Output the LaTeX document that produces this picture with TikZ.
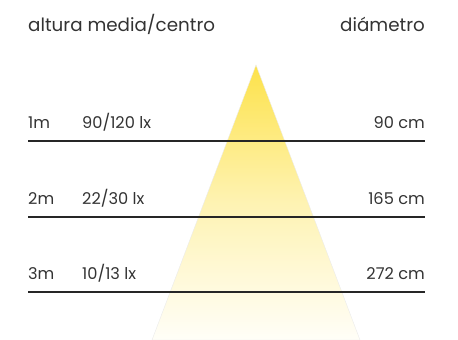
\documentclass[tikz,border=0pt]{standalone}
\usepackage{fontspec}
\setmainfont{Poppins}
\definecolor{txt}{HTML}{333333}
\definecolor{beamtop}{HTML}{FDE24A}
\definecolor{beambot}{HTML}{FFFEF8}
\begin{document}
\begin{tikzpicture}[x=1pt,y=-1pt,
  lbl/.style={inner sep=0pt,text=txt,font=\fontsize{16.2}{16.2}\selectfont,anchor=base west},
  lblr/.style={lbl,anchor=base east},
  hdr/.style={inner sep=0pt,text=txt,font=\fontsize{18.3}{18.3}\selectfont,anchor=base west},
  rule/.style={draw=black!85,line width=1.2pt}]
\useasboundingbox (0,0) rectangle (458,340);
% beam
\coordinate (apex) at (256,65);
\coordinate (bl) at (152,340);
\coordinate (br) at (360,340);
\shade[top color=beamtop,bottom color=beambot,middle color=beamtop!40!beambot,draw=black!8,line width=0.4pt] (apex) -- (br) -- (bl) -- cycle;
% headers
\node[hdr] (h1) at (28,31) {altura media/centro};
\node[hdr,anchor=base east] (h2) at (425,31) {diámetro};
% rows
\foreach \y/\m/\lx/\d [count=\i] in {141/1m/90\slash 120 lx/90 cm,217/2m/22\slash 30 lx/165 cm,292/3m/10\slash 13 lx/272 cm}{
  \coordinate (l\i) at (28,\y);
  \coordinate (r\i) at (425,\y);
  \draw[rule] (l\i) -- (r\i);
  \node[lbl] (m\i) at (28,\y-13) {\m};
  \node[lbl] (x\i) at (82,\y-13) {\lx};
  \node[lblr] (d\i) at (425,\y-13) {\d};
}
\end{tikzpicture}
\end{document}
